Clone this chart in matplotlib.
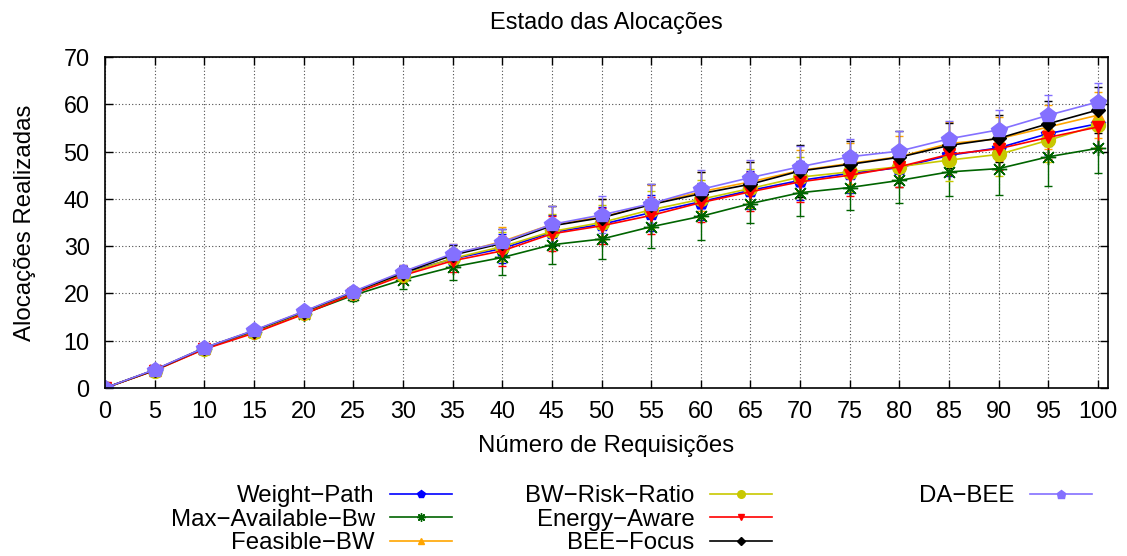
import numpy as np
import matplotlib
matplotlib.use('Agg')
import matplotlib.pyplot as plt

# ===== fonte =====
plt.rcParams['font.family'] = ['Liberation Sans', 'DejaVu Sans']
plt.rcParams['font.size'] = 16.8

# ===== dados =====
requisicoes = list(range(0, 101, 5))

weight_path = [0, 3.8, 8.4, 12.0, 16.0, 20.1, 24.3, 27.3, 29.5, 32.9, 34.6, 37.1, 39.4,
               41.8, 43.9, 45.4, 46.6, 49.2, 50.8, 53.8, 55.9]
max_available_bw = [0, 3.8, 8.3, 11.9, 15.7, 19.6, 22.9, 25.6, 27.6, 30.3, 31.5, 34.1, 36.3,
                    39.0, 41.3, 42.4, 43.9, 45.7, 46.4, 48.9, 50.7]
feasible_bw = [0, 3.8, 8.4, 12.1, 16.1, 20.3, 24.5, 28.2, 31.0, 34.6, 36.1, 38.9, 41.5,
               43.6, 46.0, 47.5, 48.9, 51.7, 52.7, 55.2, 57.7]
bw_risk_ratio = [0, 3.7, 8.3, 11.9, 15.9, 20.0, 24.0, 27.4, 29.9, 33.1, 35.0, 37.7, 39.9,
                 42.2, 44.6, 45.7, 46.8, 48.2, 49.4, 52.4, 55.6]
energy_aware = [0, 3.7, 8.2, 11.6, 15.6, 19.9, 23.8, 26.9, 29.0, 32.6, 34.3, 36.5, 39.2,
                41.5, 43.6, 45.0, 46.8, 49.4, 50.6, 53.0, 55.2]
bee_focus = [0, 3.8, 8.5, 12.1, 16.1, 20.3, 24.3, 28.1, 30.6, 34.3, 36.0, 38.8, 41.1,
             43.1, 45.9, 47.3, 48.8, 51.3, 52.8, 55.9, 58.8]
da_bee = [0, 3.9, 8.5, 12.2, 16.2, 20.4, 24.6, 28.4, 30.8, 34.6, 36.6, 39.0, 42.0,
          44.5, 46.8, 48.9, 50.1, 52.7, 54.6, 57.7, 60.5]

# ===== desvios (barras de erro) =====
err_weight_path = [0, 0.3, 0.5, 0.7, 0.8, 1.0, 1.5, 2.2, 3.0, 3.6, 3.7, 3.8, 3.9,
                   4.0, 4.2, 4.2, 4.1, 4.3, 4.4, 4.5, 4.6]
err_max_available_bw = [0, 0.4, 0.6, 0.8, 1.0, 1.2, 2.0, 2.8, 3.7, 4.1, 4.2, 4.5, 5.0,
                        4.2, 4.9, 4.8, 4.7, 5.1, 5.5, 6.2, 5.3]
err_feasible_bw = [0, 0.3, 0.5, 0.7, 0.8, 1.0, 1.6, 2.3, 3.1, 3.8, 3.9, 4.0, 4.1,
                   4.2, 4.4, 4.4, 4.3, 4.5, 4.6, 4.7, 4.8]
err_bw_risk_ratio = [0, 0.3, 0.5, 0.7, 0.8, 1.0, 1.5, 2.2, 3.0, 3.6, 3.8, 3.9, 4.0,
                     4.1, 4.3, 4.3, 4.2, 4.4, 4.5, 4.6, 4.7]
err_energy_aware = [0, 0.3, 0.5, 0.7, 0.9, 1.1, 1.6, 2.3, 3.1, 3.7, 3.8, 3.9, 4.0,
                    4.1, 4.3, 4.3, 4.2, 4.4, 4.5, 4.6, 4.7]
err_bee_focus = [0, 0.3, 0.5, 0.7, 0.8, 1.0, 1.5, 2.2, 3.0, 4.2, 4.0, 4.3, 4.5,
                 4.6, 5.5, 5.0, 5.5, 4.8, 5.0, 4.8, 4.9]
err_da_bee = [0, 0.3, 0.5, 0.7, 0.8, 1.0, 1.4, 2.0, 2.8, 3.8, 3.9, 4.2, 4.2,
              3.8, 4.3, 3.8, 4.2, 3.7, 4.1, 4.3, 4.1]

series = [
    ('Weight\u2212Path', weight_path, err_weight_path, '#0000ff', 'p', 10),
    ('Max\u2212Available\u2212Bw', max_available_bw, err_max_available_bw, '#006400', (8, 2, 0), 11),
    ('Feasible\u2212BW', feasible_bw, err_feasible_bw, '#ffa500', '^', 9),
    ('BW\u2212Risk\u2212Ratio', bw_risk_ratio, err_bw_risk_ratio, '#c8c800', 'o', 10),
    ('Energy\u2212Aware', energy_aware, err_energy_aware, '#ff0000', 'v', 9),
    ('BEE\u2212Focus', bee_focus, err_bee_focus, '#000000', 'D', 7),
    ('DA\u2212BEE', da_bee, err_da_bee, '#8470ff', 'p', 11.5),
]

# ===== figura =====
W, H = 1127, 556
fig = plt.figure(figsize=(W / 100, H / 100), dpi=100)
ax = fig.add_axes([105 / W, 1 - 388 / H, (1108 - 105) / W, (388 - 57) / H])

handles = []
for label, y, err, cor, marcador, ms in series:
    cont = ax.errorbar(requisicoes, y, yerr=err, color=cor, marker=marcador,
                       markersize=ms, linewidth=1.2, elinewidth=1.0,
                       capsize=3, capthick=1.0, label=label)
    handles.append(cont[0])

ax.set_xlim(0, 101)
ax.set_ylim(0, 70)
ax.set_xticks(range(0, 101, 5))
ax.set_yticks(range(0, 71, 10))
ax.tick_params(direction='in', top=True, right=True, length=6, width=1)
ax.tick_params(axis='x', pad=9)
ax.tick_params(axis='y', pad=11)
for s in ax.spines.values():
    s.set_linewidth(1.2)

ax.set_axisbelow(True)
ax.grid(True, linestyle=(0, (1, 2)), color='0.3', linewidth=0.8)

ax.set_title('Estado das Alocações', pad=20, fontsize=17)
ax.set_xlabel('Número de Requisições', labelpad=8, fontsize=17.3)
ax.set_ylabel('Alocações Realizadas', labelpad=20, fontsize=17.3)

# ===== legenda (3 colunas, texto à esquerda do símbolo) =====
colunas = [(0, 3, 452), (3, 6, 772), (6, 7, 1092)]
for ini, fim, xr in colunas:
    fig.legend(handles[ini:fim], [s[0] for s in series[ini:fim]],
               loc='upper right', bbox_to_anchor=(xr / W, 1 - 485 / H),
               frameon=False, markerfirst=False, markerscale=0.55,
               handlelength=2.6, handletextpad=0.62, labelspacing=0.07,
               borderpad=0, borderaxespad=0, fontsize=17.3)

fig.savefig('out.png', dpi=100)
